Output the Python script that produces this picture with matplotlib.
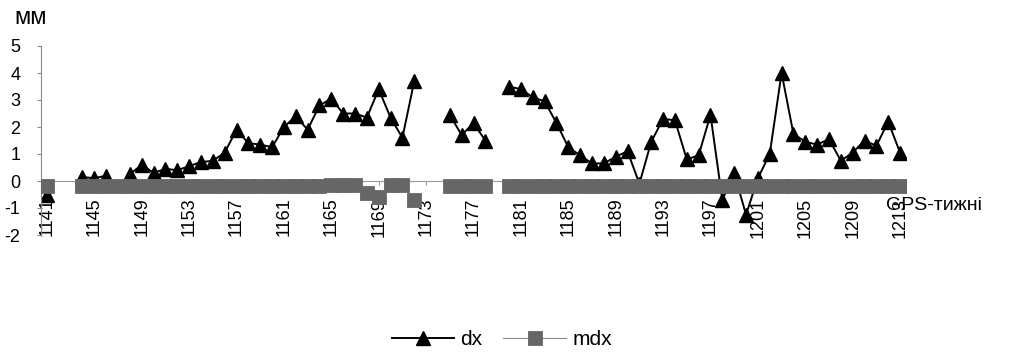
import numpy as np
import matplotlib
matplotlib.use('Agg')
import matplotlib.pyplot as plt

plt.rcParams['font.family'] = ['Liberation Sans', 'DejaVu Sans']

nan = np.nan

# GPS weeks 1141 .. 1213
weeks = list(range(1141, 1214))

dx = [-0.5, nan, nan, 0.15, 0.1, 0.2, nan, 0.25, 0.6, 0.3,
      0.45, 0.4, 0.55, 0.7, 0.75, 1.05, 1.9, 1.4, 1.35, 1.25,
      2.0, 2.4, 1.9, 2.8, 3.05, 2.5, 2.5, 2.35, 3.4, 2.35,
      1.6, 3.7, nan, nan, 2.45, 1.7, 2.15, 1.5, nan, 3.5,
      3.4, 3.1, 2.95, 2.15, 1.25, 0.95, 0.65, 0.65, 0.9, 1.1,
      -0.1, 1.45, 2.3, 2.25, 0.8, 0.95, 2.45, -0.7, 0.3, -1.25,
      0.1, 1.0, 4.0, 1.75, 1.45, 1.35, 1.55, 0.75, 1.05, 1.5,
      1.3, 2.2, 1.05]

mdx = [-0.2, nan, nan, -0.2, -0.2, -0.2, -0.2, -0.2, -0.2, -0.2,
       -0.2, -0.2, -0.2, -0.2, -0.2, -0.2, -0.2, -0.2, -0.2, -0.2,
       -0.2, -0.2, -0.2, -0.2, -0.15, -0.15, -0.15, -0.45, -0.6, -0.15,
       -0.15, -0.7, nan, nan, -0.2, -0.2, -0.2, -0.2, nan, -0.2,
       -0.2, -0.2, -0.2, -0.2, -0.2, -0.2, -0.2, -0.2, -0.2, -0.2,
       -0.2, -0.2, -0.2, -0.2, -0.2, -0.2, -0.2, -0.2, -0.2, -0.2,
       -0.2, -0.2, -0.2, -0.2, -0.2, -0.2, -0.2, -0.2, -0.2, -0.2,
       -0.2, -0.2, -0.2]

tick_weeks = weeks[::4]

fig = plt.figure(figsize=(10.24, 3.56), dpi=100)
ax = fig.add_axes([41 / 1024, 1 - 235 / 356, (906 - 41) / 1024, (235 - 46) / 356])

x = np.arange(len(weeks))
ax.plot(x, dx, color='black', linewidth=1.4, marker='^', markersize=10,
        markerfacecolor='black', markeredgecolor='black', label='dx', zorder=2)
ax.plot(x, mdx, color='#8a8a8a', linewidth=0.8, marker='s', markersize=10,
        markerfacecolor='#666666', markeredgecolor='#666666', markeredgewidth=0.6,
        label='mdx', zorder=3)

ax.set_xlim(-0.5, len(weeks) - 0.5)
ax.set_ylim(-2, 5)

for s in ['top', 'right']:
    ax.spines[s].set_visible(False)
ax.spines['bottom'].set_position(('data', 0))
ax.spines['bottom'].set_color('#999999')
ax.spines['bottom'].set_linewidth(0.8)
ax.spines['left'].set_color('#888888')
ax.spines['left'].set_linewidth(0.8)

ax.set_yticks(range(-2, 6))
ax.set_yticklabels([str(v) for v in range(-2, 6)])
ax.set_xticks([weeks.index(w) for w in tick_weeks])
ax.set_xticklabels([str(w) for w in tick_weeks])

ax.tick_params(axis='y', length=3, pad=12, labelsize=13, color='#888888')
ax.tick_params(axis='x', length=3, pad=9, labelsize=13, color='#999999',
               labelrotation=90)
ax.set_facecolor('none')

fig.text(14 / 1024, 1 - 18 / 356, 'мм', fontsize=17, va='center', ha='left')
fig.text(886 / 1024, 1 - 205 / 356, 'GPS-тижні', fontsize=14, va='center', ha='left')

fig.legend(loc='center', bbox_to_anchor=(0.49, 0.045), ncol=2, frameon=False,
           fontsize=15, handlelength=3.0, columnspacing=1.0, handletextpad=0.3)

fig.savefig('out.png', dpi=100)
